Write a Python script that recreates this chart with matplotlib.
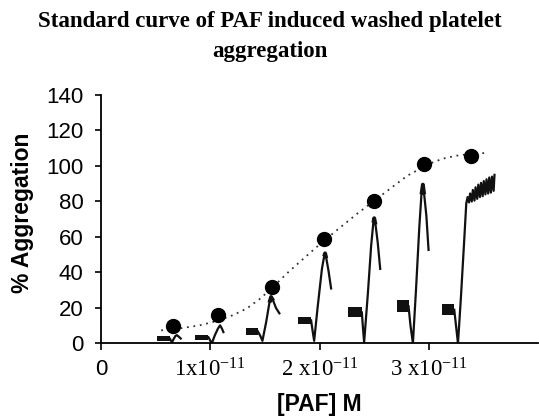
"""Standard curve of PAF induced washed platelet aggregation.

Black dots = % aggregation at each PAF dose, dotted line = fitted curve,
with the raw aggregometer tracings drawn underneath each dose.
"""
import numpy as np
import matplotlib.pyplot as plt

plt.rcParams['mathtext.fontset'] = 'custom'
plt.rcParams['mathtext.rm'] = 'Liberation Serif'
plt.rcParams['mathtext.it'] = 'Liberation Serif:italic'
plt.rcParams['mathtext.bf'] = 'Liberation Serif:bold'

# PAF concentration in units of 1e-11 M
PAF_CONC = [0.66, 1.07, 1.56, 2.04, 2.50, 2.95, 3.38]
AGGREGATION = [9.6, 16.0, 32.0, 58.7, 80.5, 101.0, 105.5]

# fitted curve (dotted)
FIT_X = [0.55, 0.70, 0.90, 1.05, 1.20, 1.33, 1.45, 1.56, 1.70, 1.91, 2.04,
         2.20, 2.35, 2.50, 2.65, 2.80, 2.95, 3.05, 3.15, 3.25, 3.38, 3.51]
FIT_Y = [7.4, 8.3, 10.2, 12.5, 15.8, 19.6, 25.0, 31.0, 39.5, 51.0, 58.0,
         66.0, 73.5, 80.5, 87.5, 94.5, 99.5, 102.5, 104.5, 105.8, 106.8, 107.3]

# aggregometer tracings: noisy baseline band, then the response trace
BASE_X0 = [0.515, 0.860, 1.324, 1.802, 2.263, 2.705, 3.117]
BASE_X1 = [0.631, 0.982, 1.434, 1.921, 2.385, 2.812, 3.230]
BASE_LO = [1.3, 2.1, 4.9, 11.2, 14.9, 17.7, 15.9]
BASE_HI = [4.0, 4.9, 8.7, 14.9, 20.6, 24.4, 22.5]

TRACE_X = [
    [0.631, 0.640, 0.650, 0.665, 0.680, 0.693, 0.710, 0.729],
    [0.982, 1.000, 1.013, 1.040, 1.070, 1.089, 1.105, 1.119],
    [1.434, 1.455, 1.476, 1.510, 1.540, 1.555, 1.575, 1.600, 1.631],
    [1.921, 1.935, 1.949, 1.980, 2.020, 2.040, 2.049, 2.060, 2.080, 2.104],
    [2.385, 2.395, 2.406, 2.440, 2.470, 2.490, 2.498, 2.510, 2.530, 2.553],
    [2.812, 2.830, 2.852, 2.880, 2.910, 2.930, 2.943, 2.955, 2.975, 2.995],
    [3.230, 3.248, 3.264, 3.290, 3.320, 3.340, 3.352, 3.365, 3.375, 3.390,
     3.400, 3.415, 3.425, 3.440, 3.450, 3.465, 3.475, 3.490, 3.500, 3.515,
     3.525, 3.540, 3.550, 3.565, 3.575, 3.590, 3.598],
]
TRACE_Y = [
    [2.6, 1.5, 0.8, 2.6, 4.2, 4.7, 3.9, 2.8],
    [3.5, 1.5, 0.0, 4.5, 8.5, 10.2, 8.5, 6.4],
    [6.8, 4.5, 1.5, 12.0, 23.0, 26.2, 24.0, 20.0, 17.0],
    [13.0, 7.0, 1.5, 20.0, 42.0, 49.0, 50.8, 48.0, 41.0, 31.0],
    [17.5, 9.0, 0.7, 28.0, 55.0, 68.0, 70.6, 67.0, 57.0, 42.0],
    [21.0, 10.0, 0.2, 30.0, 65.0, 84.0, 89.5, 84.0, 72.0, 52.7],
    [19.0, 9.0, 0.0, 25.0, 57.0, 79.0, 82.5, 79.5, 84.5, 80.0,
     86.5, 80.5, 88.0, 81.5, 89.5, 82.5, 90.5, 83.0, 91.5, 84.0,
     92.5, 84.5, 93.5, 85.0, 94.0, 86.0, 95.0],
]

X_TICKS = [0, 1, 2, 3]
X_TICKLABELS = ['0', '1x10$^{-11}$', '2 x10$^{-11}$', '3 x10$^{-11}$']
Y_TICKS = [0, 20, 40, 60, 80, 100, 120, 140]

INK = '#111111'


def main():
    fig = plt.figure(figsize=(5.39, 4.17), dpi=100)
    ax = fig.add_axes([0.1874, 0.1763, 0.8116, 0.5959])

    # raw tracings
    for x0, x1, lo, hi in zip(BASE_X0, BASE_X1, BASE_LO, BASE_HI):
        ax.fill_between([x0, x1], [lo, lo], [hi, hi], color=INK, linewidth=0)
    for i, (tx, ty) in enumerate(zip(TRACE_X, TRACE_Y)):
        ax.plot(tx, ty, color=INK, linewidth=1.6, solid_joinstyle='round')
        if 2 <= i <= 5:
            # noisy, thickened top of the tracing
            k = int(np.argmax(ty))
            ax.plot(tx[k - 1:k + 2], ty[k - 1:k + 2], color=INK,
                    linewidth=2.8, solid_capstyle='butt')

    # fitted curve + means
    ax.plot(FIT_X, FIT_Y, color='#333333', linewidth=1.3,
            linestyle=(0, (1, 2.6)))
    ax.plot(PAF_CONC, AGGREGATION, 'o', color='black', markersize=10,
            zorder=5)

    ax.set_xlim(0, 4)
    ax.set_ylim(0, 140)
    ax.set_xticks(X_TICKS)
    ax.set_xticklabels(X_TICKLABELS, fontsize=16.5, family='Liberation Serif')
    ax.get_xticklabels()[0].set_family('Liberation Sans')
    ax.get_xticklabels()[0].set_fontsize(16)
    ax.set_yticks(Y_TICKS)
    ax.set_yticklabels([str(v) for v in Y_TICKS], fontsize=16,
                       family='Liberation Sans')
    ax.tick_params(axis='x', direction='out', length=5, width=1.2, pad=6,
                   colors='black')
    ax.tick_params(axis='y', direction='out', length=4.5, width=1.2, pad=8,
                   colors='black')
    for s in ['top', 'right']:
        ax.spines[s].set_visible(False)
    for s in ['left', 'bottom']:
        ax.spines[s].set_linewidth(1.3)
        ax.spines[s].set_color('black')

    fig.text(0.5, 1 - 27 / 417, 'Standard curve of PAF induced washed platelet',
             ha='center', va='baseline', fontsize=16.5, weight='bold',
             family='Liberation Serif')
    fig.text(0.5, 1 - 57 / 417, 'aggregation',
             ha='center', va='baseline', fontsize=16.5, weight='bold',
             family='Liberation Serif')
    fig.text(0.5925, 1 - 404 / 417, '[PAF] M', ha='center', va='center',
             fontsize=16.5, weight='bold', family='Liberation Sans')
    fig.text(22.5 / 539, 1 - 213 / 417, '% Aggregation', ha='center',
             va='center', rotation=90, fontsize=16.5, weight='bold',
             family='Liberation Sans')

    fig.savefig('out.png', dpi=100, facecolor='white')
    plt.close(fig)


if __name__ == '__main__':
    main()
